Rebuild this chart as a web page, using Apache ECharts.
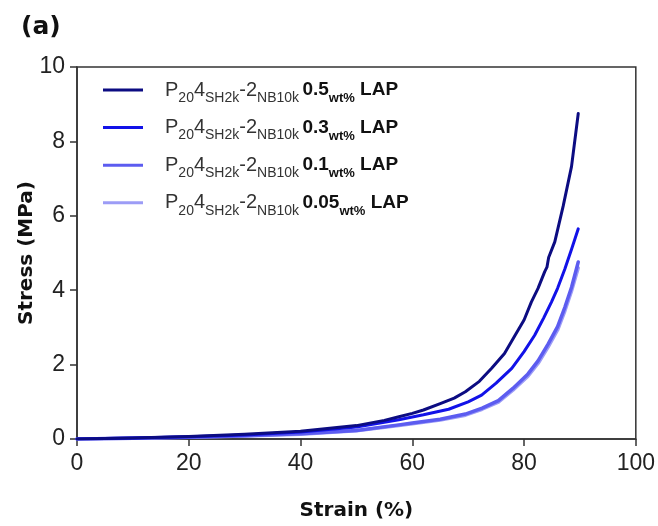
<!DOCTYPE html>
<html>
<head>
<meta charset="utf-8">
<script src="https://cdn.jsdelivr.net/npm/echarts@6/dist/echarts.min.js"></script>
<style>html,body{margin:0;padding:0;background:#fff}#c{width:658px;height:526px}</style>
</head>
<body>
<div id="c"></div>
<script>
// Data (strain %, stress MPa)
const strain05 = [0, 10, 20, 30, 40, 50, 55, 57.6, 60, 62, 65, 67.5, 69.5, 72, 74.2, 76.5, 78.4, 80, 81.3, 82.5, 83.7, 84.1, 84.4, 85.5, 87, 88.5, 89.7];
const stress05 = [0, 0.03, 0.07, 0.13, 0.21, 0.36, 0.5, 0.6, 0.69, 0.78, 0.95, 1.1, 1.27, 1.55, 1.9, 2.3, 2.79, 3.2, 3.68, 4.05, 4.5, 4.62, 4.88, 5.3, 6.26, 7.33, 8.75];
const strain03 = [0, 10, 20, 30, 40, 50, 57.6, 62, 66.5, 70, 72.4, 75, 77.8, 80, 81.9, 83.5, 84.9, 86, 87.3, 88.5, 89.7];
const stress03 = [0, 0.03, 0.06, 0.11, 0.19, 0.32, 0.52, 0.65, 0.8, 1.0, 1.18, 1.5, 1.9, 2.35, 2.79, 3.25, 3.68, 4.05, 4.57, 5.1, 5.65];
const strain01 = [0, 10, 20, 30, 40, 50, 57.6, 60, 65, 69.5, 72.5, 75.4, 78, 80.7, 82.5, 84.3, 86, 87.3, 88.5, 89.7];
const stress01 = [0, 0.02, 0.05, 0.09, 0.14, 0.23, 0.38, 0.43, 0.53, 0.67, 0.83, 1.03, 1.36, 1.75, 2.1, 2.55, 3.02, 3.54, 4.08, 4.76];
const strain005 = [0, 10, 20, 30, 40, 50, 57.6, 60, 65, 69.5, 72.5, 75.4, 78, 80.7, 82.5, 84.3, 86, 87.3, 88.5, 89.7];
const stress005 = [0, 0.02, 0.05, 0.08, 0.13, 0.22, 0.36, 0.41, 0.51, 0.64, 0.8, 0.99, 1.31, 1.69, 2.03, 2.47, 2.93, 3.44, 3.98, 4.6];
const seriesNames = ['0.5', '0.3', '0.1', '0.05'];
const seriesColors = ['#0c0c82', '#1212e8', '#5c5cf0', '#9c9cf6'];
const xTicks = [0, 20, 40, 60, 80, 100];
const yTicks = [0, 2, 4, 6, 8, 10];

const pairs = (xs, ys) => xs.map((x, i) => [x, ys[i]]);
const allData = [pairs(strain05, stress05), pairs(strain03, stress03), pairs(strain01, stress01), pairs(strain005, stress005)];
const widths = [3, 3, 3.5, 3.5];

const chart = echarts.init(document.getElementById('c'));
const axisLine = {show: true, lineStyle: {color: '#333', width: 1.5}};
chart.setOption({
  animation: false,
  backgroundColor: '#fff',
  title: {text: '(a)', left: 21, top: 15, padding: 0, textStyle: {fontFamily: 'DejaVu Sans', fontWeight: 'bold', fontSize: 25, color: '#111'}},
  grid: {left: 77, right: 20, top: 67, bottom: 85, show: true, borderColor: '#333', borderWidth: 1.5},
  legend: {
    orient: 'vertical', left: 103, top: 80, padding: 0, itemGap: 12.6, itemWidth: 40, itemHeight: 3,
    icon: 'rect', data: seriesNames,
    formatter: n => '{p|P}{s|20}{p|4}{s|SH2k}{p|-2}{s|NB10k} {b|' + n + '}{sb|wt%}{b| LAP}',
    textStyle: {
      padding: [0, 0, 0, 17],
      rich: {
        p: {fontFamily: 'Liberation Sans', fontSize: 20, color: '#333', lineHeight: 24, verticalAlign: 'middle'},
        s: {fontFamily: 'Liberation Sans', fontSize: 14, color: '#333', lineHeight: 24, verticalAlign: 'bottom', padding: [0, 0, -3, 0]},
        b: {fontFamily: 'Liberation Sans', fontSize: 19, fontWeight: 'bold', color: '#111', lineHeight: 24, verticalAlign: 'middle'},
        sb: {fontFamily: 'Liberation Sans', fontSize: 13, fontWeight: 'bold', color: '#111', lineHeight: 24, verticalAlign: 'bottom', padding: [0, 0, -3, 0]}
      }
    }
  },
  xAxis: {
    type: 'value', min: 0, max: 100, interval: 20,
    name: 'Strain (%)', nameLocation: 'middle', nameGap: 62, nameMoveOverlap: false,
    nameTextStyle: {fontFamily: 'DejaVu Sans', fontWeight: 'bold', fontSize: 20, color: '#111'},
    axisLine: axisLine, axisTick: {show: true, length: 7, lineStyle: {color: '#333', width: 1.5}},
    axisLabel: {fontFamily: 'Liberation Sans', fontSize: 23, color: '#222', margin: 13, formatter: v => xTicks.includes(v) ? String(v) : ''},
    splitLine: {show: false}
  },
  yAxis: {
    type: 'value', min: 0, max: 10, interval: 2,
    name: 'Stress (MPa)', nameLocation: 'middle', nameGap: 40, nameRotate: 90, nameMoveOverlap: false,
    nameTextStyle: {fontFamily: 'DejaVu Sans', fontWeight: 'bold', fontSize: 20, color: '#111'},
    axisLine: axisLine, axisTick: {show: true, length: 7, lineStyle: {color: '#333', width: 1.5}},
    axisLabel: {fontFamily: 'Liberation Sans', fontSize: 23, color: '#222', margin: 12, formatter: v => yTicks.includes(v) ? String(v) : ''},
    splitLine: {show: false}
  },
  series: [3, 2, 1, 0].map(i => ({
    name: seriesNames[i], type: 'line', data: allData[i], smooth: false, symbol: 'none',
    color: seriesColors[i], lineStyle: {width: widths[i], color: seriesColors[i], join: 'round', cap: 'round'}, z: 10 - i
  }))
});
</script>
</body>
</html>
